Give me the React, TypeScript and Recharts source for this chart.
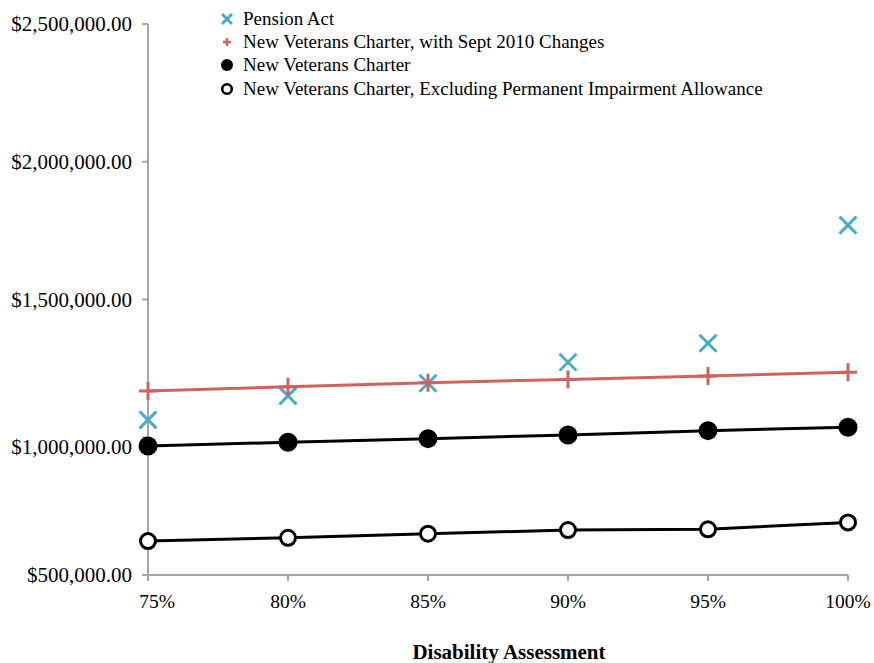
import React from 'react';
import { ComposedChart, Line, XAxis, YAxis } from 'recharts';

const categories = [75, 80, 85, 90, 95, 100];
const pensionAct = [1063000, 1150000, 1196000, 1272000, 1341000, 1770000];
const nvcSept2010 = [1168000, 1183000, 1198000, 1210000, 1222000, 1236000];
const nvc = [968000, 982000, 995000, 1008000, 1024000, 1036000];
const nvcExclPIA = [623000, 635000, 650000, 663000, 666000, 691000];
const yTicks = [500000, 1000000, 1500000, 2000000, 2500000];

const seriesNames = [
  'Pension Act',
  'New Veterans Charter, with Sept 2010 Changes',
  'New Veterans Charter',
  'New Veterans Charter, Excluding Permanent Impairment Allowance',
];

const data = categories.map((c, i) => ({
  x: c,
  pension: pensionAct[i],
  sept: nvcSept2010[i],
  nvc: nvc[i],
  excl: nvcExclPIA[i],
}));

const CYAN = '#4bacc6';
const RED = '#cf625c';
const FONT = 'Liberation Serif';

const XDot = (props: any) => {
  const { cx, cy, index } = props;
  if (cx == null || cy == null) return null;
  const s = 8.5;
  return (
    <g key={'x' + index}>
      <line x1={cx - s} y1={cy - s} x2={cx + s} y2={cy + s} stroke={CYAN} strokeWidth={3} />
      <line x1={cx - s} y1={cy + s} x2={cx + s} y2={cy - s} stroke={CYAN} strokeWidth={3} />
    </g>
  );
};

const PlusDot = (props: any) => {
  const { cx, cy, index } = props;
  if (cx == null || cy == null) return null;
  const s = 9;
  return (
    <g key={'p' + index}>
      <line x1={cx - s} y1={cy} x2={cx + s} y2={cy} stroke={RED} strokeWidth={3} />
      <line x1={cx} y1={cy - s} x2={cx} y2={cy + s} stroke={RED} strokeWidth={3} />
    </g>
  );
};

const FilledDot = (props: any) => {
  const { cx, cy, index } = props;
  if (cx == null || cy == null) return null;
  return <circle key={'f' + index} cx={cx} cy={cy} r={9.5} fill="#000" />;
};

const OpenDot = (props: any) => {
  const { cx, cy, index } = props;
  if (cx == null || cy == null) return null;
  return <circle key={'o' + index} cx={cx} cy={cy} r={7.5} fill="#fff" stroke="#000" strokeWidth={3} />;
};

const legendIcons = [
  (
    <svg width={14} height={14}>
      <line x1={2} y1={2} x2={12} y2={12} stroke={CYAN} strokeWidth={3} />
      <line x1={2} y1={12} x2={12} y2={2} stroke={CYAN} strokeWidth={3} />
    </svg>
  ),
  (
    <svg width={14} height={14}>
      <line x1={3} y1={7} x2={11} y2={7} stroke={RED} strokeWidth={2.5} />
      <line x1={7} y1={3} x2={7} y2={11} stroke={RED} strokeWidth={2.5} />
    </svg>
  ),
  (
    <svg width={14} height={14}>
      <circle cx={7} cy={7} r={6} fill="#000" />
    </svg>
  ),
  (
    <svg width={14} height={14}>
      <circle cx={7} cy={7} r={4.8} fill="#fff" stroke="#000" strokeWidth={2.6} />
    </svg>
  ),
];

const fmtMoney = (v: number) =>
  '$' + v.toLocaleString('en-US', { minimumFractionDigits: 2, maximumFractionDigits: 2 });

const YTick = (props: any) => {
  const { x, y, payload } = props;
  const shift = payload.value === 1000000 ? 9 : 0;
  return (
    <text x={x} y={y + shift} dy="0.355em" textAnchor="end" fontFamily={FONT} fontSize={21} fill="#000">
      {fmtMoney(payload.value)}
    </text>
  );
};

const XTick = (props: any) => {
  const { x, y, payload, index } = props;
  const shift = index === 0 ? 9 : 0;
  return (
    <text x={x + shift} y={y} dy="0.71em" textAnchor="middle" fontFamily={FONT} fontSize={19.5} fill="#000">
      {payload.value + '%'}
    </text>
  );
};

const AxisTitle = (props: any) => {
  const vb = props.viewBox || {};
  const cx = vb.x + vb.width / 2 + 11;
  return (
    <text x={cx} y={659} textAnchor="middle" fontFamily={FONT} fontWeight="bold" fontSize={21} fill="#000">
      Disability Assessment
    </text>
  );
};

export default function App() {
  return (
    <div style={{ position: 'absolute', left: 0, top: 0, width: 874, height: 663 }}>
      <ComposedChart
        width={874}
        height={663}
        data={data}
        margin={{ top: 24, right: 26, bottom: 0, left: 0 }}
      >
        <XAxis
          dataKey="x"
          type="number"
          domain={[75, 100]}
          ticks={categories}
          height={88}
          axisLine={{ stroke: '#a6a6a6', strokeWidth: 2 }}
          tickLine={{ stroke: '#a6a6a6', strokeWidth: 2 }}
          tickSize={6}
          tickMargin={13}
          tick={<XTick />}
          interval={0}
          label={<AxisTitle />}
        />
        <YAxis
          type="number"
          domain={[500000, 2500000]}
          ticks={yTicks}
          width={148}
          axisLine={{ stroke: '#a6a6a6', strokeWidth: 2 }}
          tickLine={{ stroke: '#a6a6a6', strokeWidth: 2 }}
          tickSize={6}
          tickMargin={10}
          tick={<YTick />}
          interval={0}
        />
        <Line
          dataKey="excl"
          name={seriesNames[3]}
          stroke="#000"
          strokeWidth={3}
          dot={OpenDot}
          activeDot={false}
          isAnimationActive={false}
        />
        <Line
          dataKey="nvc"
          name={seriesNames[2]}
          stroke="#000"
          strokeWidth={3}
          dot={FilledDot}
          activeDot={false}
          isAnimationActive={false}
        />
        <Line
          dataKey="pension"
          name={seriesNames[0]}
          stroke="none"
          dot={XDot}
          activeDot={false}
          isAnimationActive={false}
        />
        <Line
          dataKey="sept"
          name={seriesNames[1]}
          stroke={RED}
          strokeWidth={3}
          dot={PlusDot}
          activeDot={false}
          isAnimationActive={false}
        />
      </ComposedChart>
      <div
        style={{
          position: 'absolute',
          left: 220,
          top: 7,
          fontFamily: FONT,
          fontSize: 19,
          color: '#000',
        }}
      >
        {seriesNames.map((n, i) => (
          <div key={n} style={{ display: 'flex', alignItems: 'center', height: 23.3, whiteSpace: 'nowrap' }}>
            <span style={{ width: 23, display: 'inline-flex', alignItems: 'center' }}>{legendIcons[i]}</span>
            <span>{n}</span>
          </div>
        ))}
      </div>
    </div>
  );
}
